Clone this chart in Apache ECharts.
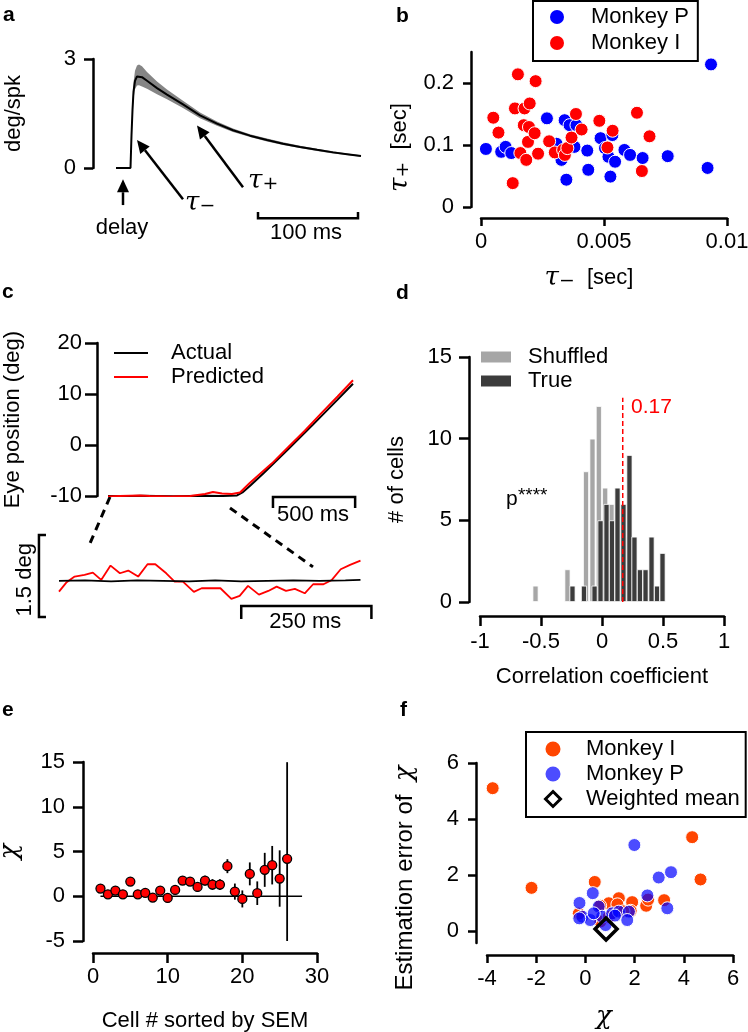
<!DOCTYPE html>
<html lang="en">
<head>
<meta charset="UTF-8">
<title>figure</title>
<script src="https://cdn.jsdelivr.net/npm/echarts@6.0.0/dist/echarts.min.js"></script>
<style>
  html, body { margin: 0; padding: 0; background: #fff; }
  #fig { width: 748px; height: 1032px; }
</style>
</head>
<body>
<div id="fig"></div>
<script>
// ---------- data ----------
// a: kernel (time in ms, value in deg/spk)
var kernelT    = [-1, 13.5, 14.5, 15.5, 16.5, 18, 20, 22, 25, 30, 40, 50, 66, 83, 100, 116, 133, 150, 166, 183, 200, 216, 230, 244];
var kernelMean = [0, 0, 0.9, 1.6, 2.1, 2.4, 2.52, 2.54, 2.5, 2.4, 2.2, 2.02, 1.75, 1.45, 1.22, 1.04, 0.89, 0.77, 0.67, 0.58, 0.5, 0.43, 0.38, 0.33];
var kernelHi   = [0, 0, 1.0, 1.8, 2.35, 2.68, 2.82, 2.85, 2.8, 2.64, 2.38, 2.16, 1.85, 1.53, 1.28, 1.09, 0.93, 0.81, 0.71, 0.61, 0.53, 0.46, 0.4, 0.35];
var kernelLo   = [0, 0, 0.8, 1.45, 1.9, 2.17, 2.27, 2.28, 2.24, 2.18, 2.03, 1.89, 1.65, 1.37, 1.16, 0.99, 0.85, 0.73, 0.63, 0.55, 0.47, 0.4, 0.36, 0.31];

// b: time constants (sec)
var pTauMinus = [0.0002, 0.00082, 0.001, 0.00123, 0.00268, 0.00307, 0.00327, 0.0034, 0.0036, 0.00347, 0.0038, 0.00388, 0.00432, 0.00436, 0.00486, 0.00504, 0.00518, 0.00534, 0.00526, 0.00545, 0.00583, 0.00606, 0.00657, 0.00759, 0.00921, 0.00935];
var pTauPlus  = [0.0936, 0.089, 0.097, 0.087, 0.143, 0.102, 0.076, 0.14, 0.132, 0.044, 0.097, 0.132, 0.091, 0.06, 0.111, 0.095, 0.081, 0.116, 0.049, 0.073, 0.092, 0.084, 0.079, 0.082, 0.063, 0.23];
var iTauMinus = [0.0005, 0.00071, 0.00129, 0.00138, 0.0015, 0.0016, 0.00174, 0.00177, 0.00184, 0.00195, 0.00198, 0.00191, 0.00218, 0.00222, 0.00232, 0.00277, 0.003, 0.00334, 0.00341, 0.00351, 0.00368, 0.00386, 0.00409, 0.00481, 0.00514, 0.00535, 0.00634, 0.00654, 0.00685];
var iTauPlus  = [0.144, 0.12, 0.0385, 0.159, 0.214, 0.087, 0.132, 0.159, 0.076, 0.129, 0.167, 0.105, 0.119, 0.203, 0.086, 0.106, 0.088, 0.092, 0.084, 0.095, 0.112, 0.15, 0.125, 0.139, 0.096, 0.123, 0.152, 0.058, 0.114];

// c: eye position (ms, deg)
var actualT   = [0, 100, 200, 300, 400, 500, 600, 700, 787, 820, 870, 950, 1100, 1250, 1400, 1494];
var actualPos = [-10, -10.05, -9.95, -10, -10.05, -10, -9.95, -10, -9.9, -9.3, -7.9, -5.5, -0.8, 4.0, 8.9, 12.0];
var predT     = [0, 73, 195, 256, 378, 500, 592, 640, 695, 756, 805, 866, 950, 1000, 1100, 1200, 1300, 1400, 1494];
var predPos   = [-10.1, -10, -9.9, -10, -10.1, -10, -9.6, -9.2, -9.5, -9.6, -9.3, -7.4, -5.0, -3.6, -0.4, 2.8, 6.2, 9.5, 12.7];
// c inset (ms, deg relative)
var insetT    = [0, 14, 30, 49, 65, 81, 99, 117, 133, 152, 170, 185, 206, 222, 238, 259, 274, 293, 310, 331, 347, 363, 384, 402, 418, 436, 453, 472, 488, 508, 524, 541, 559, 579];
var insetPred = [-0.195, -0.03, 0.079, 0.11, 0.152, 0.018, 0.28, 0.14, 0.189, 0.079, 0.305, 0.305, 0.14, -0.012, -0.012, -0.2, -0.134, -0.134, -0.134, -0.33, -0.274, -0.091, -0.25, -0.183, -0.104, -0.183, -0.146, -0.226, -0.061, -0.061, 0.018, 0.213, 0.293, 0.372];
var insetActT = [0, 50, 100, 150, 200, 250, 300, 350, 400, 450, 500, 550, 579];
var insetAct  = [0, 0.01, -0.01, 0.01, 0, -0.01, 0.01, -0.01, 0, 0.01, 0, 0.01, 0.02];

// d: histograms of correlation coefficient
var shufBins   = [-0.545, -0.283, -0.131, -0.078, -0.026, 0.026, 0.078, 0.13, 0.182, 0.226, 0.27];
var shufCounts = [1, 2, 8, 10, 12, 7, 6, 5, 4, 2, 2];
var trueBins   = [-0.242, -0.148, -0.061, -0.012, 0.037, 0.082, 0.127, 0.176, 0.225, 0.266, 0.311, 0.357, 0.406, 0.451, 0.496];
var trueCounts = [1, 1, 1, 5, 6, 5, 7, 6, 9, 4, 2, 2, 4, 1, 3];
var medianCorr = 0.17;

// e: chi per cell with SEM
var cellIdx = [1, 2, 3, 4, 5, 6, 7, 8, 9, 10, 11, 12, 13, 14, 15, 16, 17, 18, 19, 20, 21, 22, 23, 24, 25, 26];
var chiVals = [0.86, 0.22, 0.63, 0.22, 1.64, 0.22, 0.37, -0.15, 0.63, -0.19, 0.71, 1.75, 1.64, 1.04, 1.75, 1.31, 1.31, 3.36, 0.52, -0.3, 2.5, 0.34, 2.95, 3.47, 1.98, 4.18];
var chiSem  = [0.25, 0.25, 0.3, 0.25, 0.3, 0.25, 0.3, 0.3, 0.35, 0.35, 0.4, 0.45, 0.45, 0.55, 0.55, 0.6, 0.6, 0.78, 0.9, 0.95, 1.28, 1.32, 1.9, 2.15, 3.15, 10.8];

// f: chi vs estimation error
var iChi = [-3.77, -2.19, 0.38, 4.34, 4.68, 3.2, 2.47, 1.9, 1.36, 0.95, 0.6, -0.27, 1.84, 0.61, 0.95, 1.3, 2.55, 1.55];
var iErr = [5.1, 1.54, 1.75, 3.35, 1.84, 1.1, 0.9, 1.03, 1.17, 0.99, 0.9, 0.62, 0.72, 0.34, 0.5, 0.95, 1.12, 0.7];
var pChi = [1.99, 3.48, 2.98, 0.3, -0.24, 2.52, 3.33, 0.54, -0.13, 0.2, 0.68, 1.09, 1.36, 1.77, 1.7, 0.82, 0.34, 1.2, -0.25];
var pErr = [3.07, 2.1, 1.91, 1.35, 1.0, 1.27, 0.81, 0.87, 0.51, 0.39, 0.51, 0.63, 0.69, 0.69, 0.39, 0.21, 0.63, 0.55, 0.45];
var weightedMean = [0.84, 0.07];

// ---------- helpers ----------
var FONT = 'Liberation Sans';
var FS = 22;
var TAU = {
    t: { fontFamily: 'DejaVu Serif', fontStyle: 'italic', fontSize: 26 },
    s: { fontFamily: 'DejaVu Sans', fontSize: 30 }
};
var CHI = { c: { fontFamily: 'DejaVu Serif', fontStyle: 'italic', fontSize: 26 } };

function zip(a, b) {
    return a.map(function (v, i) { return [v, b[i]]; });
}

function grid(l, t, w, h) {
    return { left: l, top: t, width: w, height: h, show: false, containLabel: false, outerBoundsMode: 'none' };
}

function axis(o) {
    var a = {
        type: 'value', gridIndex: o.g, min: o.min, max: o.max, offset: o.off || 0,
        show: o.show !== false,
        axisLine: { show: true, onZero: false, lineStyle: { color: '#000', width: 2.5 } },
        axisTick: { show: true, length: o.tick || 10, lineStyle: { color: '#000', width: 2.5 } },
        axisLabel: { color: '#000', fontSize: FS, fontFamily: FONT, margin: o.lm || 16 },
        splitLine: { show: false },
        name: o.name || '', nameLocation: 'middle', nameGap: o.gap || 40, nameMoveOverlap: false,
        nameTextStyle: Object.assign({ color: '#000', fontSize: FS, fontFamily: FONT }, o.nts || {})
    };
    if (o.iv) a.interval = o.iv;
    if (o.custom) {
        a.axisTick.customValues = o.custom;
        a.axisLabel.customValues = o.custom;
    }
    return a;
}

// annotations (arrows, scale bars, notes) placed in data coordinates of a grid
function notes(g, shapes, z) {
    return {
        type: 'custom', xAxisIndex: g, yAxisIndex: g, silent: true, clip: false, z: z || 3,
        data: [[0, 0]],
        renderItem: function (params, api) {
            var kids = [];
            shapes.forEach(function (s) {
                if (s.pts) {
                    kids.push({
                        type: 'polyline',
                        shape: { points: s.pts.map(function (d) { return api.coord(d); }) },
                        style: { stroke: s.color || '#000', lineWidth: s.w || 2.5, lineDash: s.dash || null, fill: 'none' }
                    });
                } else if (s.arrow) {
                    var a = api.coord(s.arrow[0]), b = api.coord(s.arrow[1]);
                    var dx = b[0] - a[0], dy = b[1] - a[1], L = Math.sqrt(dx * dx + dy * dy);
                    var ux = dx / L, uy = dy / L, hl = 13, hw = 6;
                    var bx = b[0] - ux * hl, by = b[1] - uy * hl;
                    kids.push({ type: 'line', shape: { x1: a[0], y1: a[1], x2: bx, y2: by }, style: { stroke: '#000', lineWidth: 2.5 } });
                    kids.push({ type: 'polygon', shape: { points: [b, [bx - uy * hw, by + ux * hw], [bx + uy * hw, by - ux * hw]] }, style: { fill: '#000' } });
                } else if (s.text) {
                    var c = api.coord(s.at);
                    kids.push({
                        type: 'text', x: c[0], y: c[1], rotation: s.rot || 0,
                        style: Object.assign({ text: s.text, fill: '#000', fontSize: FS, fontFamily: FONT, align: 'center', verticalAlign: 'middle' }, s.style || {})
                    });
                }
            });
            return { type: 'group', children: kids };
        }
    };
}

function panelLetter(ch, x, y) {
    return { type: 'text', x: x, y: y, style: { text: ch, fontSize: 21, fontWeight: 'bold', fontFamily: FONT, verticalAlign: 'middle', fill: '#000' } };
}

var chart = echarts.init(document.getElementById('fig'));

var legendText = { fontSize: FS, fontFamily: FONT, color: '#000' };
var noMarker = { color: 'rgba(0,0,0,0)', borderWidth: 0 };

var option = {
    animation: false,
    backgroundColor: '#fff',
    textStyle: { fontFamily: FONT, color: '#000' },
    grid: [
        grid(93, 59, 268, 109),    // a
        grid(481, 52, 246, 155),   // b
        grid(108, 343, 245, 153),  // c
        grid(59, 535, 302, 82),    // c inset
        grid(480, 357, 244, 245),  // d
        grid(93, 762, 224, 179),   // e
        grid(487, 763, 246, 180)   // f
    ],
    xAxis: [
        axis({ g: 0, min: -24, max: 244, show: false }),
        axis({ g: 1, min: 0, max: 0.01, iv: 0.005, off: 11, lm: 13, tick: 8, name: '{t|τ}{s|₋}  [sec]', gap: 45, nts: { padding: [0, 30, 0, 0], rich: TAU } }),
        axis({ g: 2, min: 0, max: 1494, show: false }),
        axis({ g: 3, min: 0, max: 580, show: false }),
        axis({ g: 4, min: -1, max: 1, iv: 0.5, off: 14, lm: 15, name: 'Correlation coefficient', gap: 50 }),
        axis({ g: 5, min: 0, max: 30, iv: 10, off: 12, lm: 13, name: 'Cell # sorted by SEM', gap: 57 }),
        axis({ g: 6, min: -4, max: 6, iv: 2, off: 12, lm: 13, tick: 8, name: '{c|χ}', gap: 49, nts: { padding: [0, 12, 0, 0], rich: CHI } })
    ],
    yAxis: [
        axis({ g: 0, min: 0, max: 3, iv: 3, lm: 17, tick: 9, name: 'deg/spk', gap: 68 }),
        axis({ g: 1, min: 0, max: 0.25, custom: [0, 0.1, 0.2], off: 10, lm: 17, tick: 8, name: '{t|τ}{s|₊}  [sec]', gap: 56, nts: { padding: [0, 36, 0, 0], rich: TAU } }),
        axis({ g: 2, min: -10, max: 20, iv: 10, off: 11, lm: 15, tick: 12, name: 'Eye position (deg)', gap: 73 }),
        axis({ g: 3, min: -0.66, max: 0.84, show: false }),
        axis({ g: 4, min: 0, max: 15, iv: 5, off: 11, lm: 17, name: '# of cells', gap: 61 }),
        axis({ g: 5, min: -5, max: 15, iv: 5, off: 10, lm: 18, name: '{c|χ}', gap: 60, nts: { rich: CHI } }),
        axis({ g: 6, min: -0.43, max: 6, custom: [0, 2, 4, 6], off: 11, lm: 17, tick: 8, name: 'Estimation error of  {c|χ}', gap: 58, nts: { fontSize: 24, padding: [0, 50, 0, 0], rich: CHI } })
    ],
    legend: [
        {
            data: ['Monkey P', 'Monkey I'], left: 533, top: 1, orient: 'vertical',
            borderColor: '#000', borderWidth: 2, padding: [5, 9, 7, 17], itemWidth: 14, itemHeight: 14, itemGap: 4,
            selectedMode: false, itemStyle: { borderWidth: 0 },
            textStyle: Object.assign({ padding: [0, 0, 0, 22] }, legendText)
        },
        {
            data: [{ name: 'Actual', itemStyle: noMarker }, { name: 'Predicted', itemStyle: noMarker }],
            left: 113, top: 342, orient: 'vertical', padding: 0,
            itemWidth: 34, itemHeight: 14, itemGap: 2, selectedMode: false,
            textStyle: Object.assign({ padding: [0, 0, 0, 18] }, legendText)
        },
        {
            data: ['Shuffled', 'True'], left: 481, top: 346, orient: 'vertical', padding: 0, icon: 'rect',
            itemWidth: 30, itemHeight: 11, itemGap: 2, selectedMode: false, itemStyle: { borderWidth: 0 },
            textStyle: Object.assign({ padding: [0, 0, 0, 12] }, legendText)
        },
        {
            data: [
                { name: 'Monkey I', itemStyle: { color: '#ff4500', borderWidth: 0 } },
                { name: 'Monkey P', itemStyle: { color: 'rgba(0,0,255,0.7)', borderWidth: 0 } },
                { name: 'Weighted mean', icon: 'path://M0,-10L10,0L0,10L-10,0Z', itemStyle: { borderWidth: 3 } }
            ],
            left: 526, top: 732, orient: 'vertical', borderColor: '#000', borderWidth: 2,
            padding: [6, 6, 7, 18], itemWidth: 18, itemHeight: 15, itemGap: 3, selectedMode: false,
            textStyle: Object.assign({ padding: [0, 0, 0, 19] }, legendText)
        }
    ],
    graphic: [
        panelLetter('a', 3, 15),
        panelLetter('b', 396, 16),
        panelLetter('c', 2, 292),
        panelLetter('d', 396, 293),
        panelLetter('e', 2, 710),
        panelLetter('f', 400, 710)
    ],
    series: [
        // ---- a ----
        {
            type: 'custom', xAxisIndex: 0, yAxisIndex: 0, silent: true, z: 2, data: [[0, 0]],
            renderItem: function (params, api) {
                var pts = [];
                for (var i = 0; i < kernelT.length; i++) pts.push(api.coord([kernelT[i], kernelHi[i]]));
                for (var j = kernelT.length - 1; j >= 0; j--) pts.push(api.coord([kernelT[j], kernelLo[j]]));
                return { type: 'polygon', shape: { points: pts }, style: { fill: '#858585' } };
            }
        },
        {
            type: 'line', xAxisIndex: 0, yAxisIndex: 0, data: zip(kernelT, kernelMean), symbol: 'none', z: 3,
            lineStyle: { color: '#000', width: 2 }
        },
        notes(0, [
            { arrow: [[6, -1.02], [6, -0.31]] },
            { arrow: [[66, -0.86], [20, 0.77]] },
            { arrow: [[126, -0.53], [80, 1.17]] },
            { text: 'delay', at: [5, -1.65] },
            { text: '{t|τ}{s|₋}', at: [68, -0.96], style: { align: 'left', rich: TAU } },
            { text: '{t|τ}{s|₊}', at: [131, -0.36], style: { align: 'left', rich: TAU } },
            { pts: [[141, -1.21], [141, -1.38], [241, -1.38], [241, -1.21]] },
            { text: '100 ms', at: [189, -1.79] }
        ]),
        // ---- b ----
        {
            name: 'Monkey P', type: 'scatter', xAxisIndex: 1, yAxisIndex: 1, data: zip(pTauMinus, pTauPlus),
            symbolSize: 13, itemStyle: { color: '#0000ff', borderColor: '#fff', borderWidth: 1, opacity: 1 }
        },
        {
            name: 'Monkey I', type: 'scatter', xAxisIndex: 1, yAxisIndex: 1, data: zip(iTauMinus, iTauPlus),
            symbolSize: 13, itemStyle: { color: '#ff0000', borderColor: '#fff', borderWidth: 1, opacity: 1 }
        },
        // ---- c ----
        {
            name: 'Actual', type: 'line', xAxisIndex: 2, yAxisIndex: 2, data: zip(actualT, actualPos), symbol: 'none',
            lineStyle: { color: '#000', width: 2 }, itemStyle: { color: '#000' }
        },
        {
            name: 'Predicted', type: 'line', xAxisIndex: 2, yAxisIndex: 2, data: zip(predT, predPos), symbol: 'none',
            lineStyle: { color: '#ff0000', width: 2 }, itemStyle: { color: '#ff0000' }
        },
        notes(2, [
            { pts: [[12, -10.2], [-122, -20.2]], w: 3, dash: [8, 6] },
            { pts: [[744, -12.35], [1250, -23.9]], w: 3, dash: [8, 6] },
            { pts: [[1006, -12.35], [1006, -10.2], [1507, -10.2], [1507, -12.35]] },
            { text: '500 ms', at: [1250, -13.63] }
        ]),
        {
            type: 'line', xAxisIndex: 3, yAxisIndex: 3, data: zip(insetT, insetPred), symbol: 'none',
            lineStyle: { color: '#ff0000', width: 1.8 }
        },
        {
            type: 'line', xAxisIndex: 3, yAxisIndex: 3, data: zip(insetActT, insetAct), symbol: 'none',
            lineStyle: { color: '#000', width: 1.8 }
        },
        notes(3, [
            { pts: [[-25, 0.84], [-38.5, 0.84], [-38.5, -0.66], [-25, -0.66]] },
            { text: '1.5 deg', at: [-65, 0.02], rot: Math.PI / 2 },
            { pts: [[350, -0.695], [350, -0.457], [600, -0.457], [600, -0.695]] },
            { text: '250 ms', at: [473, -0.75] }
        ]),
        // ---- d ----
        {
            name: 'Shuffled', type: 'bar', xAxisIndex: 4, yAxisIndex: 4, data: zip(shufBins, shufCounts),
            barWidth: 6, barGap: '-100%', itemStyle: { color: '#a6a6a6', borderColor: '#fff', borderWidth: 0.8 }
        },
        {
            name: 'True', type: 'bar', xAxisIndex: 4, yAxisIndex: 4, data: zip(trueBins, trueCounts),
            barWidth: 6, barGap: '-100%', itemStyle: { color: '#3c3c3c', borderColor: '#fff', borderWidth: 0.8 }
        },
        notes(4, [
            { pts: [[medianCorr, 0], [medianCorr, 12.5]], color: '#ff0000', w: 1.5, dash: [5, 3] },
            { text: String(medianCorr), at: [0.238, 11.9], style: { align: 'left', fill: '#ff0000', fontSize: 21 } },
            { text: 'p', at: [-0.787, 6.3], style: { align: 'left', fontSize: 21 } },
            { text: '****', at: [-0.689, 7.1], style: { align: 'left', verticalAlign: 'top', fontSize: 19 } }
        ], 5),
        // ---- e ----
        notes(5, [{ pts: [[1, 0], [28, 0]], w: 1.5 }], 2),
        {
            type: 'custom', xAxisIndex: 5, yAxisIndex: 5, silent: true, clip: true, z: 3,
            data: cellIdx.map(function (c, i) { return [c, chiVals[i], chiSem[i]]; }),
            renderItem: function (params, api) {
                var x = api.value(0), y = api.value(1), e = api.value(2);
                var p1 = api.coord([x, y - e]), p2 = api.coord([x, y + e]);
                return { type: 'line', shape: { x1: p1[0], y1: p1[1], x2: p2[0], y2: p2[1] }, style: { stroke: '#000', lineWidth: 1.8 } };
            }
        },
        {
            type: 'scatter', xAxisIndex: 5, yAxisIndex: 5, data: zip(cellIdx, chiVals), z: 4,
            symbolSize: 9, itemStyle: { color: '#ff0000', borderColor: '#000', borderWidth: 1.3, opacity: 1 }
        },
        // ---- f ----
        {
            name: 'Monkey I', type: 'scatter', xAxisIndex: 6, yAxisIndex: 6, data: zip(iChi, iErr),
            symbolSize: 13, itemStyle: { color: '#ff4500', borderColor: '#fff', borderWidth: 1, opacity: 1 }
        },
        {
            name: 'Monkey P', type: 'scatter', xAxisIndex: 6, yAxisIndex: 6, data: zip(pChi, pErr),
            symbolSize: 13, itemStyle: { color: 'rgba(0,0,255,0.7)', borderColor: '#fff', borderWidth: 1, opacity: 1 }
        },
        {
            name: 'Weighted mean', type: 'scatter', xAxisIndex: 6, yAxisIndex: 6, data: [weightedMean], z: 5,
            symbol: 'diamond', symbolSize: 22, itemStyle: { color: 'rgba(0,0,0,0)', borderColor: '#000', borderWidth: 3.5, opacity: 1 }
        }
    ]
};

chart.setOption(option);
</script>
</body>
</html>
